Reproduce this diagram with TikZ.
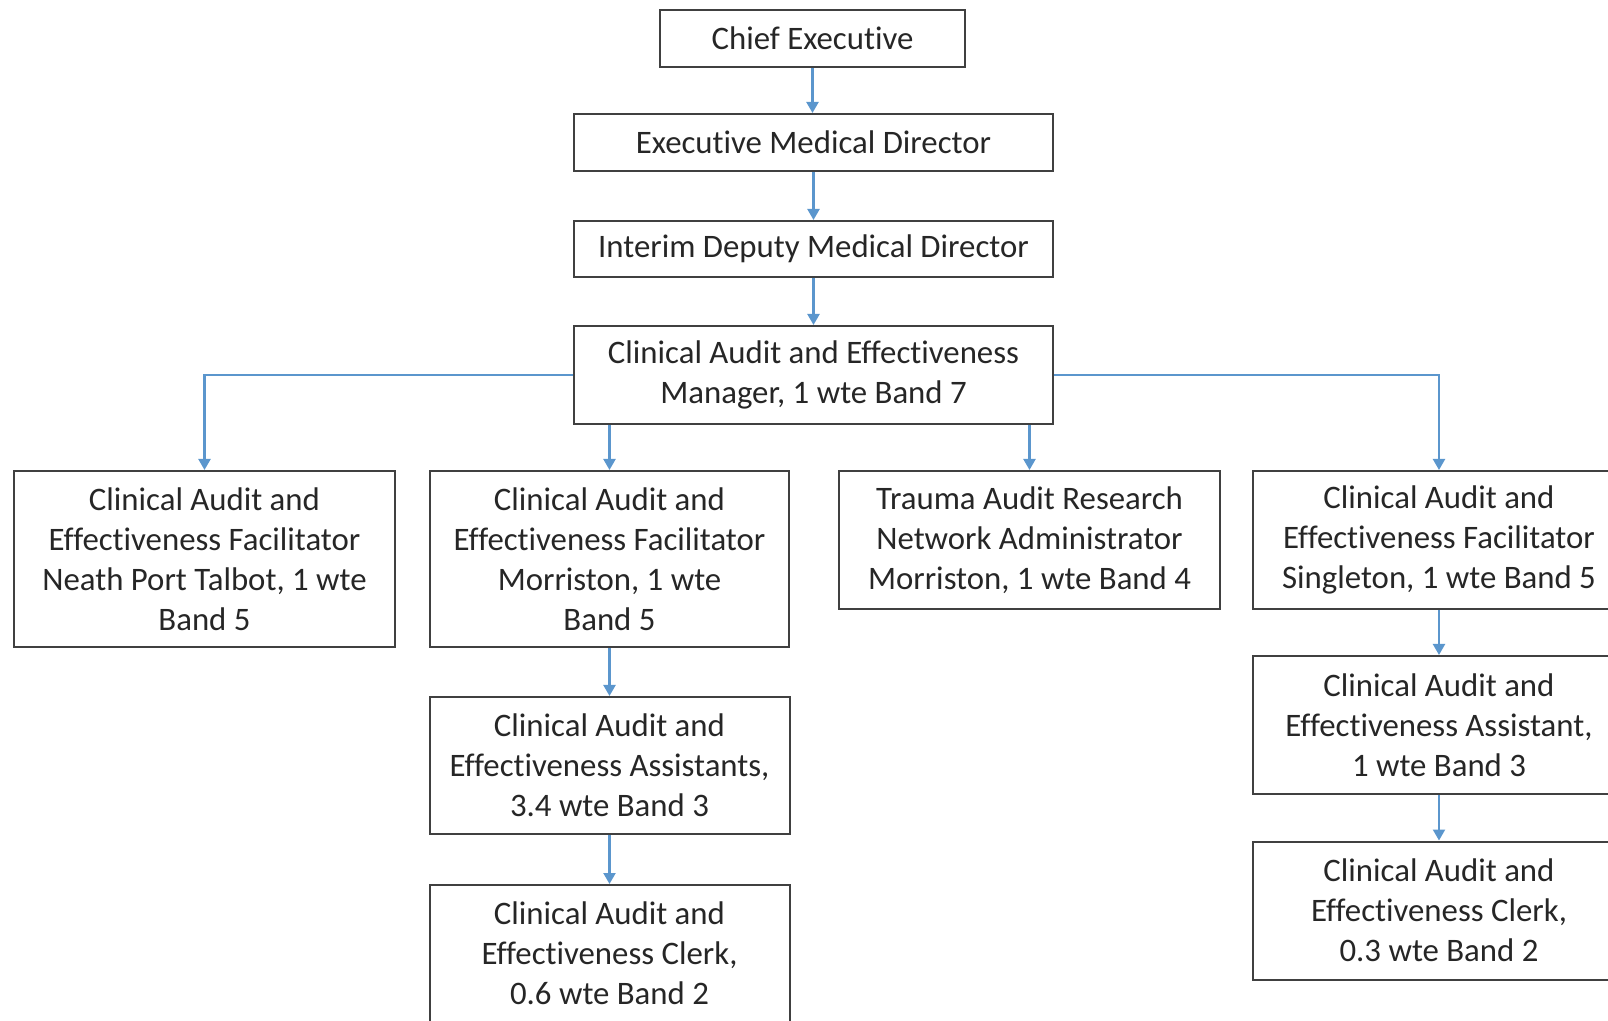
\documentclass[tikz,border=0pt]{standalone}
\usepackage{fontspec}
\setmainfont[Ligatures=NoCommon]{Carlito}
\usetikzlibrary{arrows.meta}
\definecolor{boxgray}{RGB}{64,64,64}
\definecolor{txtgray}{RGB}{38,38,38}
\definecolor{arrblue}{RGB}{91,150,205}
\begin{document}
\begin{tikzpicture}[x=0.5pt, y=-0.5pt]
\tikzstyle{n}=[draw=boxgray, line width=1pt, rectangle, align=center, inner sep=0pt, text=txtgray, font=\fontsize{16.4}{20}\selectfont]
\tikzstyle{arr}=[draw=arrblue, line width=1.1pt, -{Triangle[width=6pt,length=5.5pt]}]
\useasboundingbox (0,0) rectangle (1608,1021);

\node[n, minimum width=152.5pt, minimum height=28.5pt](ce)   at ( 812.5,  38.5) {Chief Executive} ;
\node[n, minimum width=239.5pt, minimum height=28.5pt](emd)  at ( 813.5, 142.5) {Executive Medical Director} ;
\node[n, minimum width=239.5pt, minimum height=28pt]  (idmd) at ( 813.5, 249)   {Interim Deputy Medical Director} ;
\node[n, minimum width=239.5pt, minimum height=49pt]  (cam)  at ( 813.5, 375)   {Clinical Audit and Effectiveness\\Manager, 1 wte Band 7} ;
\node[n, minimum width=190.5pt, minimum height=88pt]  (npt)  at ( 204.5, 559)   {Clinical Audit and\\Effectiveness Facilitator\\Neath Port Talbot, 1 wte\\Band 5} ;
\node[n, minimum width=179.5pt, minimum height=88pt]  (mor)  at ( 609.5, 559)   {Clinical Audit and\\Effectiveness Facilitator\\Morriston, 1 wte\\Band 5} ;
\node[n, minimum width=190.5pt, minimum height=69pt]  (tra)  at (1029.5, 540)   {Trauma Audit Research\\Network Administrator\\Morriston, 1 wte Band 4} ;
\node[n, minimum width=186pt,   minimum height=69pt]  (sin)  at (1439,   540)   {Clinical Audit and\\Effectiveness Facilitator\\Singleton, 1 wte Band 5} ;
\node[n, minimum width=180pt,   minimum height=68.5pt](mora) at ( 609.5, 765.5) {Clinical Audit and\\Effectiveness Assistants,\\3.4 wte Band 3} ;
\node[n, minimum width=180pt,   minimum height=68.5pt](morc) at ( 609.5, 953.5) {Clinical Audit and\\Effectiveness Clerk,\\0.6 wte Band 2} ;
\node[n, minimum width=186pt,   minimum height=69pt]  (sina) at (1439,   725)   {Clinical Audit and\\Effectiveness Assistant,\\1 wte Band 3} ;
\node[n, minimum width=186pt,   minimum height=69pt]  (sinc) at (1439,   910.5) {Clinical Audit and\\Effectiveness Clerk,\\0.3 wte Band 2} ;

\draw[arr] (ce.south)   -- (ce.south |- emd.north) ;
\draw[arr] (emd.south)  -- (idmd.north) ;
\draw[arr] (idmd.south) -- (cam.north) ;
\draw[arr] (cam.west)   -| (npt.north) ;
\draw[arr] (cam.east)   -| (sin.north) ;
\draw[arr] (cam.south -| mor.north) -- (mor.north) ;
\draw[arr] (cam.south -| tra.north) -- (tra.north) ;
\draw[arr] (mor.south)  -- (mora.north) ;
\draw[arr] (mora.south) -- (morc.north) ;
\draw[arr] (sin.south)  -- (sina.north) ;
\draw[arr] (sina.south) -- (sinc.north) ;
\end{tikzpicture}
\end{document}
